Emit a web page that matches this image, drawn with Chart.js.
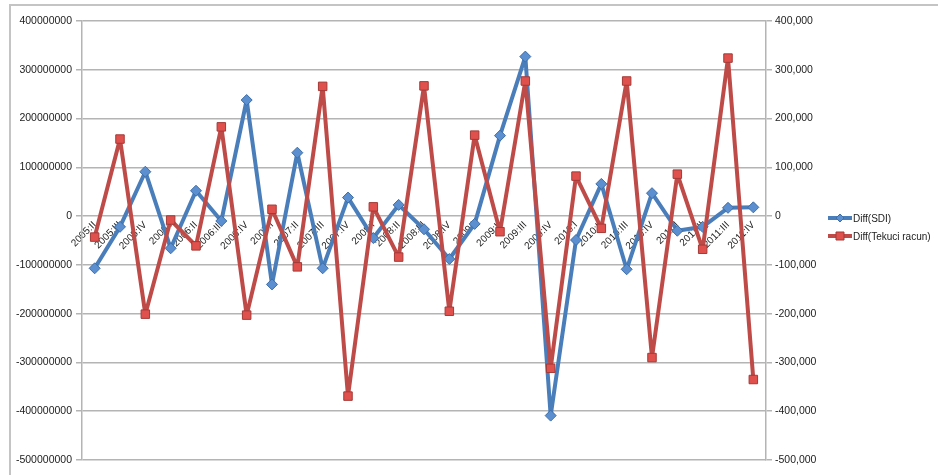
<!DOCTYPE html>
<html>
<head>
<meta charset="utf-8">
<script src="https://cdn.jsdelivr.net/npm/chart.js@4.4.1/dist/chart.umd.min.js"></script>
<style>
  html, body { margin: 0; padding: 0; background: #ffffff; }
  #wrap { position: relative; width: 938px; height: 475px; }
  canvas { display: block; }
</style>
</head>
<body>
<div id="wrap"><canvas id="c" width="938" height="475"></canvas></div>
<script>
// ---- data ----
const categories = [
  "2005:II","2005:III","2005:IV",
  "2006:I","2006:II","2006:III","2006:IV",
  "2007:I","2007:II","2007:III","2007:IV",
  "2008:I","2008:II","2008:III","2008:IV",
  "2009:I","2009:II","2009:III","2009:IV",
  "2010:I","2010:II","2010:III","2010:IV",
  "2011:I","2011:II","2011:III","2011:IV"
];
const seriesNames = ["Diff(SDI)", "Diff(Tekuci racun)"];
const diffSDI = [
  -107000000, -22000000, 91000000,
  -66000000, 52000000, -10000000, 238000000,
  -140000000, 130000000, -107000000, 38000000,
  -45000000, 23000000, -27000000, -88000000,
  -16000000, 165000000, 327000000, -409000000,
  -49000000, 66000000, -109000000, 47000000,
  -30000000, -22000000, 17000000, 18000000
];
const diffTekuciRacun = [
  -43000, 158000, -201000,
  -8000, -61000, 183000, -203000,
  14000, -104000, 266000, -369000,
  19000, -84000, 267000, -195000,
  166000, -32000, 277000, -312000,
  82000, -25000, 277000, -290000,
  86000, -68000, 324000, -335000
];
const leftTicks = { min: -500000000, max: 400000000, step: 100000000 };
const rightTicks = { min: -500000, max: 400000, step: 100000 };

// ---- styles ----
const BLUE = '#4a7ebb', BLUE_FILL = '#5b8fd0', BLUE_EDGE = '#3d6ea8';
const RED = '#be4b48', RED_FILL = '#e0504d', RED_EDGE = '#a33a37';
const GRID = '#b4b4b4';
const TXT = '#222222';
const FONT = 'Liberation Sans, Arial, sans-serif';

const frame = {
  id: 'frame',
  beforeDraw(chart) {
    const ctx = chart.ctx;
    ctx.save();
    ctx.fillStyle = '#ffffff';
    ctx.fillRect(0, 0, chart.width, chart.height);
    ctx.strokeStyle = '#c4c4c4';
    ctx.lineWidth = 2;
    ctx.strokeRect(10, 5, 1200, 1200);
    ctx.restore();
  }
};

const legendPlugin = {
  id: 'xlLegend',
  afterDraw(chart) {
    const ctx = chart.ctx;
    ctx.save();
    const items = [
      { label: chart.data.datasets[1].label, color: BLUE, fill: BLUE_FILL, edge: BLUE_EDGE, shape: 'diamond', y: 218 },
      { label: chart.data.datasets[0].label, color: RED, fill: RED_FILL, edge: RED_EDGE, shape: 'square', y: 236 }
    ];
    items.forEach(it => {
      const x0 = 828, x1 = 852, cx = 840;
      ctx.strokeStyle = it.color;
      ctx.lineWidth = 4;
      ctx.beginPath(); ctx.moveTo(x0, it.y); ctx.lineTo(x1, it.y); ctx.stroke();
      ctx.fillStyle = it.fill; ctx.strokeStyle = it.edge; ctx.lineWidth = 1;
      ctx.beginPath();
      if (it.shape === 'diamond') {
        ctx.moveTo(cx, it.y - 4); ctx.lineTo(cx + 4, it.y); ctx.lineTo(cx, it.y + 4); ctx.lineTo(cx - 4, it.y); ctx.closePath();
      } else {
        ctx.rect(cx - 4, it.y - 4, 8, 8);
      }
      ctx.fill(); ctx.stroke();
      ctx.fillStyle = TXT;
      ctx.font = '10px ' + FONT;
      ctx.textBaseline = 'middle';
      ctx.textAlign = 'left';
      ctx.fillText(it.label, 853, it.y + 1);
    });
    ctx.restore();
  }
};

new Chart(document.getElementById('c'), {
  type: 'line',
  data: {
    labels: categories,
    datasets: [
      {
        label: seriesNames[1],
        data: diffTekuciRacun,
        yAxisID: 'y1',
        order: 0,
        borderColor: RED,
        borderWidth: 4,
        borderJoinStyle: 'round',
        borderCapStyle: 'round',
        backgroundColor: RED_FILL,
        pointStyle: 'rect',
        pointRadius: 6,
        pointBorderColor: RED_EDGE,
        pointBackgroundColor: RED_FILL,
        pointBorderWidth: 1,
        tension: 0,
        fill: false
      },
      {
        label: seriesNames[0],
        data: diffSDI,
        yAxisID: 'y',
        order: 1,
        borderColor: BLUE,
        borderWidth: 4,
        borderJoinStyle: 'round',
        borderCapStyle: 'round',
        backgroundColor: BLUE_FILL,
        pointStyle: 'rectRot',
        pointRadius: 5.5,
        pointBorderColor: BLUE_EDGE,
        pointBackgroundColor: BLUE_FILL,
        pointBorderWidth: 1,
        tension: 0,
        fill: false
      }
    ]
  },
  options: {
    responsive: false,
    animation: false,
    devicePixelRatio: 1,
    layout: { padding: { left: 12, top: 21, right: 112, bottom: 15 } },
    plugins: {
      legend: { display: false },
      tooltip: { enabled: false }
    },
    scales: {
      x: {
        type: 'category',
        position: { y: 0 },
        offset: true,
        grid: { display: false, drawTicks: false },
        border: { display: false },
        ticks: {
          autoSkip: false,
          maxRotation: 45,
          minRotation: 45,
          padding: 3,
          color: TXT,
          font: { family: FONT, size: 10 }
        }
      },
      y: {
        position: 'left',
        min: leftTicks.min,
        max: leftTicks.max,
        afterFit(s) { s.width = 70; },
        grid: { color: GRID, lineWidth: 1.5, tickLength: 6, drawTicks: true },
        border: { display: true, color: GRID, width: 1.5 },
        ticks: {
          stepSize: leftTicks.step,
          padding: 4,
          color: TXT,
          font: { family: FONT, size: 10.5 },
          callback: v => String(v)
        }
      },
      y1: {
        position: 'right',
        min: rightTicks.min,
        max: rightTicks.max,
        afterFit(s) { s.width = 60; },
        grid: { drawOnChartArea: false, color: GRID, lineWidth: 1.5, tickLength: 6 },
        border: { display: true, color: GRID, width: 1.5 },
        ticks: {
          stepSize: rightTicks.step,
          padding: 3,
          color: TXT,
          font: { family: FONT, size: 10.5 },
          callback: v => v.toLocaleString('en-US')
        }
      }
    }
  },
  plugins: [frame, legendPlugin]
});
</script>
</body>
</html>
